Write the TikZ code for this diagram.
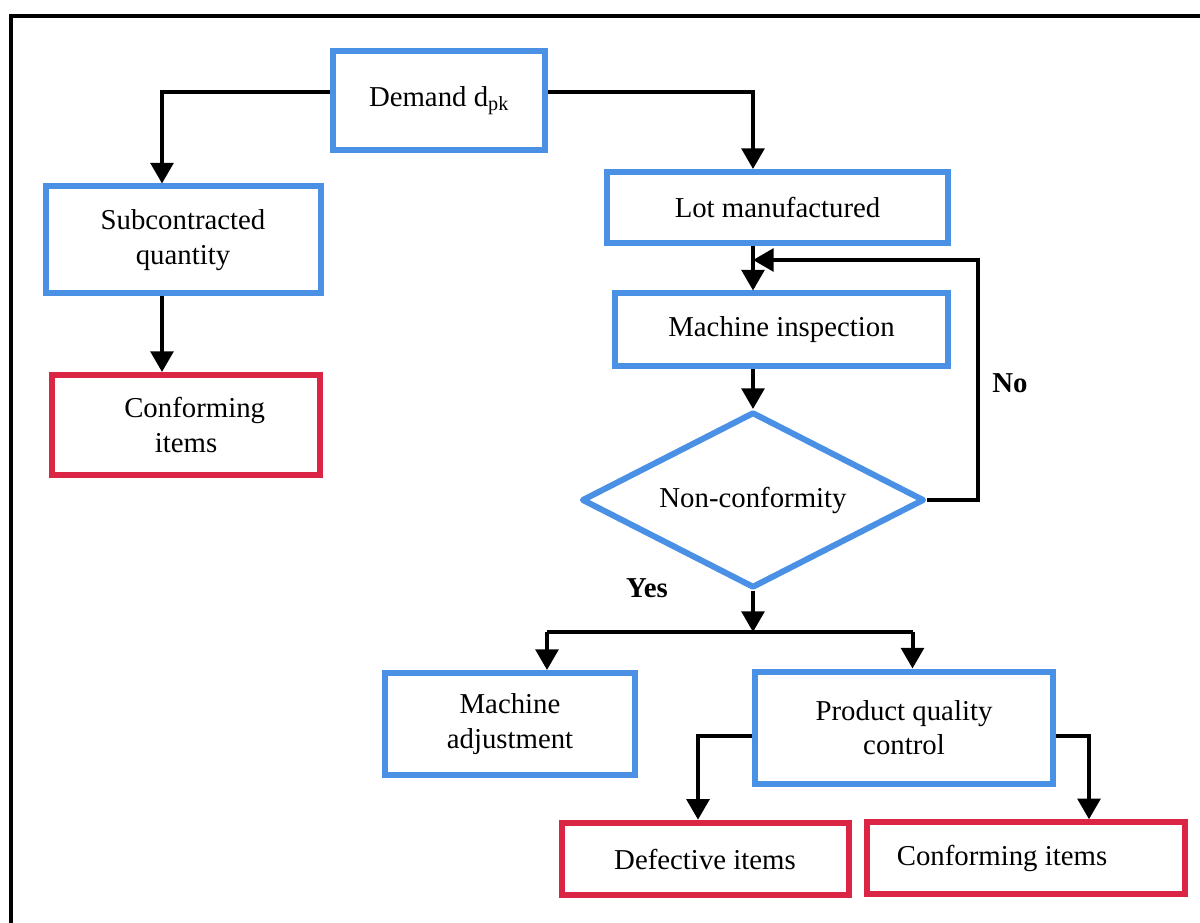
\documentclass[tikz,border=0pt]{standalone}
\usepackage{fontspec}
\setmainfont{Liberation Serif}
\usetikzlibrary{arrows.meta,shapes.geometric}
\definecolor{bblue}{RGB}{74,144,228}
\definecolor{rred}{RGB}{218,37,69}
\begin{document}
\begin{tikzpicture}[x=0.75pt,y=-0.75pt,
  font=\fontsize{21.6}{26}\selectfont,
  bbox/.style={draw=bblue,line width=4.5pt,align=center,inner sep=0pt},
  rbox/.style={draw=rred,line width=4.5pt,align=center,inner sep=0pt},
  decision/.style={diamond,aspect=2,draw=bblue,line width=4.5pt,line join=round,inner sep=0pt},
  arr/.style={line width=3pt,-{Triangle[length=15.5pt,width=17pt]}},
  ln/.style={line width=3pt},
  lbl/.style={font=\fontsize{21.6}{26}\selectfont\bfseries}]
\useasboundingbox (0,0) rectangle (1200,923);
\draw[line width=2.5pt] (11,923) -- (11,16) -- (1200,16);

\node[bbox,minimum width=159pt,minimum height=74.25pt] (dem) at (439,100.5) {Demand d\textsubscript{pk}};
\node[bbox,minimum width=206.25pt,minimum height=80.25pt] (sub) at (183,240) {Subcontracted\\quantity};
\node[rbox,minimum width=201pt,minimum height=75pt] (conf1) at (186,425) {\hspace*{13pt}Conforming\\items};
\node[bbox,minimum width=255.75pt,minimum height=53.25pt] (lot) at (777.5,207.5) {Lot manufactured};
\node[bbox,minimum width=249.75pt,minimum height=54.75pt] (mi) at (781.5,330) {Machine inspection};
\node[decision,minimum width=257pt,minimum height=132pt] (dia) at (753,500) {\raisebox{4pt}{Non-conformity}};
\node[bbox,minimum width=187.5pt,minimum height=76.5pt] (madj) at (510,724) {Machine\\adjustment};
\node[bbox,minimum width=223.5pt,minimum height=84pt] (pqc) at (904,727.5) {Product quality\\control};
\node[rbox,minimum width=215.25pt,minimum height=54.4pt] (def) at (705,859) {Defective items};
\node[rbox,minimum width=238.9pt,minimum height=53.6pt] (conf2) at (1026,858) {Conforming items\hspace*{36pt}};

\node[lbl] (no) at (1010,383) {No};
\node[lbl] (yes) at (647,588) {Yes};

\coordinate (c) at (753,0);
\coordinate (lc) at (162,0);
\coordinate (fb) at (978,260);
\coordinate (split) at (753,632);
\coordinate (sl) at (547,632);
\coordinate (sr) at (912.5,632);

\draw[arr] ([yshift=6.4pt]dem.west) -| (lc |- sub.north);
\draw[arr] ([yshift=6.4pt]dem.east) -| (c |- lot.north);
\draw[arr] (lc |- sub.south) -- (lc |- conf1.north);
\draw[arr] (c |- lot.south) -- (c |- mi.north);
\draw[arr] (c |- mi.south) -- (dia.north);
\draw[arr] (dia.east) -| (fb) -- (c |- fb);
\draw[arr] (dia.south) -- (split);
\draw[ln] (sl) -- (sr);
\draw[arr] (sl) -- (sl |- madj.north);
\draw[arr] (sr) -- (sr |- pqc.north);
\draw[arr] ([yshift=-6.4pt]pqc.west) -| ([xshift=-5.25pt]def.north);
\draw[arr] ([yshift=-6.4pt]pqc.east) -| ([xshift=47.25pt]conf2.north);
\end{tikzpicture}
\end{document}
